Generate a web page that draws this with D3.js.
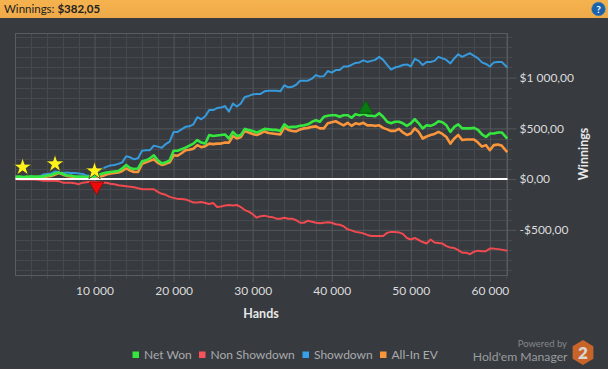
<!DOCTYPE html>
<html><head><meta charset="utf-8">
<script src="https://cdn.jsdelivr.net/npm/d3@7/dist/d3.min.js"></script>
<style>html,body{margin:0;padding:0;background:#373a3f;overflow:hidden}svg{display:block}text{font-family:Lato,"Noto Sans",sans-serif}</style>
</head><body><svg id="c" width="608" height="369"></svg>
<script>
const headerLabel="Winnings: ", headerValue="$382,05";
const xTitle="Hands", yTitle="Winnings";
const xTicks=[10000,20000,30000,40000,50000,60000];
const yTicks=[-500,0,500,1000];
const xMinor=[2000,4000,6000,8000,12000,14000,16000,18000,22000,24000,26000,28000,32000,34000,36000,38000,42000,44000,46000,48000,52000,54000,56000,58000,62000];
const yMinor=[-900,-800,-700,-600,-400,-300,-200,-100,100,200,300,400,600,700,800,900,1100,1200,1300,1400];
const hands=[0,500,1000,1500,2000,2500,3000,3500,4000,4500,5000,5500,6000,6500,7000,7500,8000,8500,9000,9500,10000,10500,11000,11500,12000,12500,13000,13500,14000,14500,15000,15500,16000,16500,17000,17500,18000,18500,19000,19500,20000,20500,21000,21500,22000,22500,23000,23500,24000,24500,25000,25500,26000,26500,27000,27500,28000,28500,29000,29500,30000,30500,31000,31500,32000,32500,33000,33500,34000,34500,35000,35500,36000,36500,37000,37500,38000,38500,39000,39500,40000,40500,41000,41500,42000,42500,43000,43500,44000,44500,45000,45500,46000,46500,47000,47500,48000,48500,49000,49500,50000,50500,51000,51500,52000,52500,53000,53500,54000,54500,55000,55500,56000,56500,57000,57500,58000,58500,59000,59500,60000,60500,61000,61500,62200];
const netWon=[25,25,20,25,25,25,25,25,35,40,55,65,50,35,35,25,25,25,20,25,25,40,55,65,70,75,80,105,140,110,100,105,175,185,205,235,185,155,165,185,280,280,295,310,330,350,385,360,350,435,425,430,435,440,400,465,425,435,495,485,475,460,475,495,490,485,485,475,540,510,515,515,525,530,540,565,580,565,615,625,630,630,615,630,630,605,640,630,645,625,625,620,650,615,565,550,565,565,550,525,550,590,550,500,530,525,540,570,560,530,465,515,540,500,500,500,505,485,440,415,450,450,460,460,400];
const nonShowdown=[0,-3,-5,-5,-5,-5,-10,-15,-15,-15,-15,-20,-35,-35,-35,-40,-50,-35,-30,-25,-25,-30,-35,-35,-45,-50,-60,-65,-70,-75,-80,-90,-100,-100,-100,-100,-125,-145,-155,-175,-185,-195,-195,-200,-215,-230,-230,-225,-235,-245,-235,-275,-270,-260,-255,-260,-255,-275,-305,-320,-345,-380,-365,-360,-370,-375,-390,-390,-380,-390,-390,-405,-430,-430,-410,-420,-430,-435,-430,-425,-430,-445,-450,-465,-495,-505,-520,-525,-535,-550,-560,-560,-560,-560,-530,-520,-520,-525,-540,-580,-595,-580,-600,-620,-635,-595,-625,-630,-635,-660,-675,-680,-700,-725,-725,-740,-715,-705,-710,-710,-685,-685,-690,-695,-705];
const showdown=[10,15,15,15,25,15,25,45,50,55,75,70,60,65,60,60,55,50,35,30,40,80,105,120,135,140,150,165,225,215,195,205,280,285,285,330,320,310,345,370,465,465,490,515,520,540,610,590,620,680,680,700,705,720,665,745,715,745,810,820,835,840,840,865,870,870,870,865,925,905,910,930,970,970,970,990,1025,1010,1015,1065,1050,1075,1075,1110,1110,1125,1145,1150,1170,1155,1165,1175,1205,1175,1125,1080,1100,1110,1125,1130,1110,1185,1165,1125,1155,1155,1165,1205,1190,1175,1140,1190,1230,1205,1225,1240,1215,1190,1150,1135,1110,1150,1155,1155,1100];
const allInEV=[15,15,15,15,20,15,15,20,25,30,45,60,45,30,25,20,15,15,15,15,15,20,30,45,55,60,65,80,105,85,70,70,150,165,180,195,160,140,150,165,235,230,255,285,290,300,335,315,325,350,345,350,350,360,360,425,400,415,475,460,445,435,450,470,455,450,445,440,510,485,475,470,490,500,505,515,520,500,500,550,560,570,550,530,555,525,550,540,555,530,530,525,530,505,490,475,475,495,460,435,450,500,465,400,420,435,445,465,445,415,350,400,435,385,390,390,390,360,320,335,285,335,340,330,265];
const seriesNames=["Non Showdown","Showdown","All-In EV","Net Won"];
const seriesData=[nonShowdown,showdown,allInEV,netWon];
const seriesColors=["#ef4a50","#379adc","#f9953a","#35e63f"];
const seriesWidths=[2,2,2.6,2.6];
const legendNames=["Net Won","Non Showdown","Showdown","All-In EV"];
const legendColors=["#35e63f","#f9525a","#37a0e6","#f9953a"];
const starHands=[900,5000,10000], starValues=[118,150,80];
const lowHand=[10250], lowValue=[-70];
const highHand=[44300], highValue=[690];

const svg=d3.select("#c");
const W=608,H=369,L=15.5,R=507.5,T=33,B=275;
const x=d3.scaleLinear().domain([0,62230]).range([L,R]);
const y=d3.scaleLinear().domain([-945,1440]).range([B,T]);
const loc=d3.formatLocale({decimal:",",thousands:" ",grouping:[3],currency:["$",""],minus:"-"});
const fy=loc.format("$,.2f"), fx=loc.format(",d");

svg.append("rect").attr("width",W).attr("height",H).attr("fill","#373a3f");
const defs=svg.append("defs");
const g0=defs.append("linearGradient").attr("id","hd").attr("x1",0).attr("x2",0).attr("y1",0).attr("y2",1);
g0.append("stop").attr("offset",0).attr("stop-color","#f5b34f");
g0.append("stop").attr("offset",1).attr("stop-color","#eeaa48");
svg.append("rect").attr("width",W).attr("height",18).attr("fill","url(#hd)");
const ht=svg.append("text").attr("x",4).attr("y",13).attr("font-size",11.5).attr("fill","#222");
ht.append("tspan").text(headerLabel);
ht.append("tspan").attr("font-weight",700).text(headerValue);

// help icon
const hg=svg.append("g").attr("transform","translate(598.5,9)");
hg.append("circle").attr("r",6.8).attr("fill","#1b62a8").attr("stroke","#2c7cc4").attr("stroke-width",.5);
hg.append("text").attr("text-anchor","middle").attr("y",3.8).attr("font-size",10).attr("font-weight",700).attr("fill","#fff").text("?");

// grid
const minorC="#46494d", majorC="#55585b";
const plot=svg.append("g");
plot.append("g").selectAll("line").data(yMinor).join("line")
 .attr("x1",L).attr("x2",512).attr("y1",d=>Math.round(y(d))+.5).attr("y2",d=>Math.round(y(d))+.5).attr("stroke",minorC);
plot.append("g").selectAll("line").data(xMinor).join("line")
 .attr("y1",T).attr("y2",279).attr("x1",d=>Math.round(x(d))+.5).attr("x2",d=>Math.round(x(d))+.5).attr("stroke",minorC);

const axisR=d3.axisRight(y).tickValues(yTicks).tickFormat(fy).tickSizeOuter(0).tickSize(R-L+9).tickPadding(3);
const ga=svg.append("g").attr("transform",`translate(${L},0)`).call(axisR);
const axisB=d3.axisBottom(x).tickValues(xTicks).tickFormat(fx).tickSizeOuter(0).tickSize(B-T+7).tickPadding(4);
const gb=svg.append("g").attr("transform",`translate(0,${T})`).call(axisB);
[ga,gb].forEach(g=>{
  g.select(".domain").remove();
  g.selectAll("line").attr("stroke",majorC);
  g.selectAll("text").attr("fill","#dcdcdc").attr("font-size",12).attr("font-family",'Lato,sans-serif');
});
plot.append("rect").attr("x",L).attr("y",T+.5).attr("width",R-L).attr("height",B-T).attr("fill","none").attr("stroke","#5a5d60");

// series
const line=d3.line().x((d,i)=>x(hands[i])).y(d=>y(d));
svg.append("g").selectAll("path").data(seriesData).join("path")
 .attr("d",line).attr("fill","none").attr("stroke",(d,i)=>seriesColors[i]).attr("stroke-width",(d,i)=>seriesWidths[i]).attr("stroke-linejoin","round")
 .attr("data-name",(d,i)=>seriesNames[i]);

// zero line
svg.append("line").attr("x1",L).attr("x2",R).attr("y1",y(0)).attr("y2",y(0)).attr("stroke","#fff").attr("stroke-width",2);

// markers
const sym=d3.symbol();
svg.append("g").selectAll("path").data(starHands).join("path")
 .attr("transform",(d,i)=>`translate(${x(d)},${y(starValues[i])})`)
 .attr("d",sym.type(d3.symbolStar).size(105)()).attr("fill","#fff21a").attr("stroke","#34363a").attr("stroke-width",.8);
const tri=sym.type(d3.symbolTriangle).size(90)();
svg.append("g").selectAll("path").data(lowHand).join("path")
 .attr("transform",(d,i)=>`translate(${x(d)},${y(lowValue[i])}) rotate(180)`)
 .attr("d",tri).attr("fill","#ee0a0a").attr("stroke","#8a1010").attr("stroke-width",1);
svg.append("g").selectAll("path").data(highHand).join("path")
 .attr("transform",(d,i)=>`translate(${x(d)},${y(highValue[i])})`)
 .attr("d",tri).attr("fill","#0b7a12").attr("stroke","#0a5a10").attr("stroke-width",1);

// titles
svg.append("text").attr("x",261).attr("y",318).attr("text-anchor","middle").attr("font-size",12.5).attr("font-weight",700).attr("fill","#e8e8e8").text(xTitle);
svg.append("text").attr("transform","translate(588,154) rotate(-90)").attr("text-anchor","middle").attr("font-size",12.5).attr("font-weight",700).attr("fill","#e8e8e8").text(yTitle);

// legend
const legX=[132.5,199,302.5,380];
const lg=svg.append("g").selectAll("g").data(legendNames).join("g").attr("transform",(d,i)=>`translate(${legX[i]},351.5)`);
lg.append("rect").attr("width",6.5).attr("height",6.5).attr("fill",(d,i)=>legendColors[i]);
lg.append("text").attr("x",11.5).attr("y",7.5).attr("font-size",12).attr("fill","#a9abad").text(d=>d);

// branding
svg.append("text").attr("x",567).attr("y",347).attr("text-anchor","end").attr("font-size",9.5).attr("fill","#85888b").text("Powered by");
svg.append("text").attr("x",567.5).attr("y",361).attr("text-anchor","end").attr("font-size",12.2).attr("fill","#9a9c9e").text("Hold'em Manager");
const hex=d3.range(6).map(i=>[583+12*Math.sin(i*Math.PI/3),352.5+12.5*Math.cos(i*Math.PI/3)]);
svg.append("polygon").attr("points",hex.map(p=>p.join(",")).join(" ")).attr("fill","#c8642a");
svg.append("text").attr("x",583).attr("y",358.5).attr("text-anchor","middle").attr("font-size",17).attr("font-weight",800).attr("fill","#dcd6d0").text("2");
</script></body></html>
